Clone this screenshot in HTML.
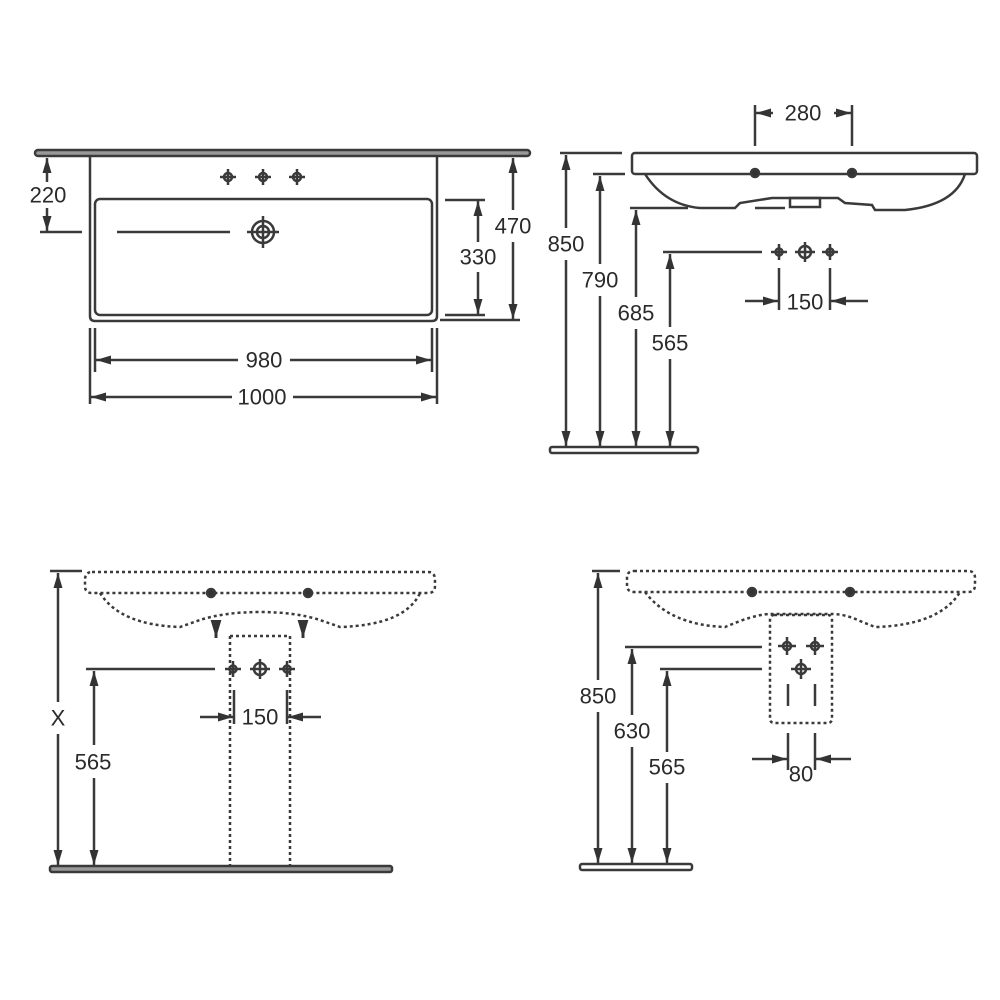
<!DOCTYPE html>
<html><head><meta charset="utf-8"><style>
html,body{margin:0;padding:0;background:#fff;}
svg{display:block}
text{font-family:"Liberation Sans",Arial,sans-serif;font-size:22px;fill:#2a2a2a;text-anchor:middle;dominant-baseline:central}
</style></head><body>
<svg width="1000" height="1000" viewBox="0 0 1000 1000" xmlns="http://www.w3.org/2000/svg">
<defs>
<marker id="a" viewBox="0 0 10 10" refX="10" refY="5" markerWidth="6" markerHeight="6" orient="auto-start-reverse"><path d="M0,2 L10,5 L0,8 z" fill="#333"/></marker>
</defs>
<g stroke="#3a3a3a" stroke-width="2.5" fill="none">
<!-- TOP LEFT -->
<rect x="35" y="150" width="495" height="6" rx="3" fill="#999"/>
<path d="M90,156 V316 Q90,321 95,321 H432 Q437,321 437,316 V156"/>
<rect x="95" y="199" width="337" height="116" rx="5"/>
<line x1="117" y1="232" x2="230" y2="232"/>
<circle cx="263" cy="232" r="11"/><circle cx="263" cy="232" r="6"/>
<path d="M263,216 V248 M247,232 H279"/>
<g fill="#fff">
<circle cx="228" cy="177" r="4"/><circle cx="263" cy="177" r="4"/><circle cx="297" cy="177" r="4"/></g>
<path d="M220,177h16M228,169v16M255,177h16M263,169v16M289,177h16M297,169v16"/>
<line x1="40" y1="232" x2="82" y2="232"/>
<line x1="47" y1="158" x2="47" y2="182" marker-start="url(#a)"/>
<line x1="47" y1="208" x2="47" y2="231" marker-end="url(#a)"/>
<line x1="445" y1="200" x2="485" y2="200"/><line x1="445" y1="315" x2="485" y2="315"/>
<line x1="478" y1="201" x2="478" y2="242" marker-start="url(#a)"/>
<line x1="478" y1="272" x2="478" y2="314" marker-end="url(#a)"/>
<line x1="440" y1="320" x2="520" y2="320"/>
<line x1="513" y1="158" x2="513" y2="210" marker-start="url(#a)"/>
<line x1="513" y1="242" x2="513" y2="319" marker-end="url(#a)"/>
<line x1="95" y1="328" x2="95" y2="372"/><line x1="432" y1="328" x2="432" y2="372"/>
<line x1="96" y1="360" x2="238" y2="360" marker-start="url(#a)"/>
<line x1="290" y1="360" x2="431" y2="360" marker-end="url(#a)"/>
<line x1="90" y1="328" x2="90" y2="404"/><line x1="437" y1="328" x2="437" y2="404"/>
<line x1="91" y1="397" x2="232" y2="397" marker-start="url(#a)"/>
<line x1="293" y1="397" x2="436" y2="397" marker-end="url(#a)"/>

<!-- TOP RIGHT -->
<rect x="632" y="153" width="345" height="21" rx="3"/>
<path d="M645,174 Q665,205 700,208 H735 L740,203 L772,198 L838,198 L845,203 L872,205 L875,210 H905 Q955,205 965,174"/>
<rect x="790" y="198" width="30" height="9"/>
<line x1="755" y1="208" x2="785" y2="208"/>
<circle cx="755" cy="173" r="4" fill="#333"/><circle cx="852" cy="173" r="4" fill="#333"/>
<line x1="755" y1="105" x2="755" y2="146"/><line x1="852" y1="105" x2="852" y2="146"/>
<line x1="756" y1="113" x2="773" y2="113" marker-start="url(#a)"/>
<line x1="834" y1="113" x2="851" y2="113" marker-end="url(#a)"/>
<line x1="560" y1="153" x2="622" y2="153"/>
<line x1="593" y1="174" x2="625" y2="174"/>
<line x1="630" y1="208" x2="688" y2="208"/>
<line x1="663" y1="252" x2="762" y2="252"/>
<line x1="566" y1="155" x2="566" y2="228" marker-start="url(#a)"/>
<line x1="566" y1="260" x2="566" y2="446" marker-end="url(#a)"/>
<line x1="600" y1="176" x2="600" y2="264" marker-start="url(#a)"/>
<line x1="600" y1="296" x2="600" y2="446" marker-end="url(#a)"/>
<line x1="636" y1="210" x2="636" y2="297" marker-start="url(#a)"/>
<line x1="636" y1="329" x2="636" y2="446" marker-end="url(#a)"/>
<line x1="670" y1="254" x2="670" y2="327" marker-start="url(#a)"/>
<line x1="670" y1="359" x2="670" y2="446" marker-end="url(#a)"/>
<rect x="550" y="447" width="148" height="6" rx="2"/>
<g fill="#fff"><circle cx="779" cy="252" r="3.5"/><circle cx="805" cy="252" r="6"/><circle cx="830" cy="252" r="3.5"/></g>
<path d="M771,252h16M779,244v16M795,252h20M805,242v20M822,252h16M830,244v16"/>
<line x1="779" y1="268" x2="779" y2="310"/><line x1="830" y1="268" x2="830" y2="310"/>
<line x1="745" y1="301" x2="778" y2="301" marker-end="url(#a)"/>
<line x1="868" y1="301" x2="831" y2="301" marker-end="url(#a)"/>

<!-- BOTTOM LEFT -->
<line x1="50" y1="571" x2="82" y2="571"/>
<g stroke-dasharray="3,3">
<path d="M92,572 H428 Q435,572 435,580 V586 Q435,593 428,593 H92 Q85,593 85,586 V580 Q85,572 92,572 z"/>
<path d="M100,593 Q120,625 180,627 L200,620 Q225,612 260,612 Q295,612 320,620 L340,627 Q405,625 420,593"/>
<path d="M230,636 H290 M230,636 V868 M290,636 V868 M230,868 H290"/>
</g>
<circle cx="211" cy="593" r="4" fill="#333"/><circle cx="308" cy="593" r="4" fill="#333"/>
<line x1="216" y1="622" x2="216" y2="638" marker-end="url(#a)" stroke-width="3"/>
<line x1="303" y1="622" x2="303" y2="638" marker-end="url(#a)" stroke-width="3"/>
<g fill="#fff"><circle cx="233" cy="669" r="3.5"/><circle cx="260" cy="669" r="6"/><circle cx="287" cy="669" r="3.5"/></g>
<path d="M225,669h16M233,661v16M250,669h20M260,659v20M279,669h16M287,661v16"/>
<line x1="86" y1="669" x2="215" y2="669"/>
<line x1="58" y1="573" x2="58" y2="702" marker-start="url(#a)"/>
<line x1="58" y1="734" x2="58" y2="865" marker-end="url(#a)"/>
<line x1="94" y1="671" x2="94" y2="745" marker-start="url(#a)"/>
<line x1="94" y1="778" x2="94" y2="865" marker-end="url(#a)"/>
<line x1="234" y1="690" x2="234" y2="724"/><line x1="287" y1="690" x2="287" y2="724"/>
<line x1="200" y1="717" x2="233" y2="717" marker-end="url(#a)"/>
<line x1="321" y1="717" x2="288" y2="717" marker-end="url(#a)"/>
<rect x="50" y="866" width="342" height="6" rx="2" fill="#999"/>

<!-- BOTTOM RIGHT -->
<line x1="592" y1="571" x2="620" y2="571"/>
<g stroke-dasharray="3,3">
<path d="M634,571 H968 Q975,571 975,578 V585 Q975,592 968,592 H634 Q627,592 627,585 V578 Q627,571 634,571 z"/>
<path d="M645,592 Q670,625 725,627 L740,621 Q760,614 770,614 H832 Q845,614 860,621 L875,627 Q940,625 960,592"/>
<rect x="770" y="615" width="62" height="108" rx="4"/>
</g>
<circle cx="752" cy="592" r="4" fill="#333"/><circle cx="850" cy="592" r="4" fill="#333"/>
<g fill="#fff"><circle cx="787" cy="646" r="4"/><circle cx="815" cy="646" r="4"/><circle cx="801" cy="669" r="5"/></g>
<path d="M778,646h18M787,637v18M806,646h18M815,637v18M791,669h20M801,659v20"/>
<line x1="788" y1="684" x2="788" y2="706"/><line x1="815" y1="684" x2="815" y2="706"/>
<line x1="625" y1="647" x2="762" y2="647"/>
<line x1="660" y1="669" x2="762" y2="669"/>
<line x1="598" y1="573" x2="598" y2="680" marker-start="url(#a)"/>
<line x1="598" y1="712" x2="598" y2="863" marker-end="url(#a)"/>
<line x1="632" y1="649" x2="632" y2="715" marker-start="url(#a)"/>
<line x1="632" y1="747" x2="632" y2="863" marker-end="url(#a)"/>
<line x1="667" y1="671" x2="667" y2="752" marker-start="url(#a)"/>
<line x1="667" y1="783" x2="667" y2="863" marker-end="url(#a)"/>
<line x1="788" y1="733" x2="788" y2="770"/><line x1="815" y1="733" x2="815" y2="770"/>
<line x1="752" y1="759" x2="787" y2="759" marker-end="url(#a)"/>
<line x1="851" y1="759" x2="816" y2="759" marker-end="url(#a)"/>
<rect x="580" y="864" width="112" height="6" rx="2"/>
</g>
<g>
<text x="48" y="195">220</text>
<text x="478" y="257">330</text>
<text x="513" y="226">470</text>
<text x="264" y="360">980</text>
<text x="262" y="397">1000</text>
<text x="803" y="113">280</text>
<text x="566" y="244">850</text>
<text x="600" y="280">790</text>
<text x="636" y="313">685</text>
<text x="670" y="343">565</text>
<text x="805" y="302">150</text>
<text x="58" y="718">X</text>
<text x="93" y="762">565</text>
<text x="260" y="717">150</text>
<text x="598" y="696">850</text>
<text x="632" y="731">630</text>
<text x="667" y="767">565</text>
<text x="801" y="774">80</text>
</g>
</svg>
</body></html>
